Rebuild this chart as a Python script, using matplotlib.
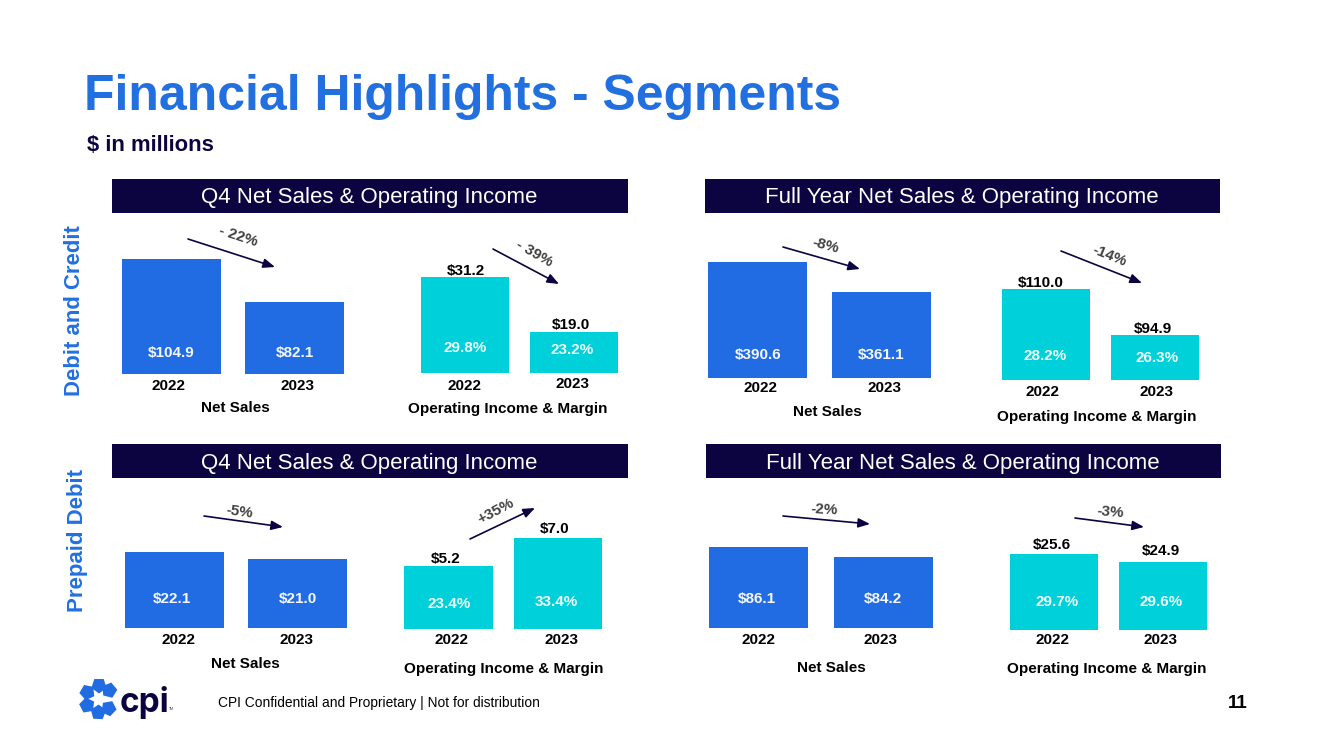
import numpy as np
import matplotlib
matplotlib.use("Agg")
import matplotlib.pyplot as plt
from matplotlib.patches import Rectangle, RegularPolygon

plt.rcParams['font.family'] = ['Liberation Sans', 'DejaVu Sans']

# values
years = ["2022", "2023"]
dc_q4_sales = [104.9, 82.1]
dc_q4_income = [31.2, 19.0]
dc_q4_margin = ["29.8%", "23.2%"]
dc_fy_sales = [390.6, 361.1]
dc_fy_income = [110.0, 94.9]
dc_fy_margin = ["28.2%", "26.3%"]
pp_q4_sales = [22.1, 21.0]
pp_q4_income = [5.2, 7.0]
pp_q4_margin = ["23.4%", "33.4%"]
pp_fy_sales = [86.1, 84.2]
pp_fy_income = [25.6, 24.9]
pp_fy_margin = ["29.7%", "29.6%"]
changes = ["- 22%", "- 39%", "-8%", "-14%", "-5%", "+35%", "-2%", "-3%"]
header_q4 = "Q4 Net Sales & Operating Income"
header_fy = "Full Year Net Sales & Operating Income"

BLUE = "#216ce2"
CYAN = "#00d0d9"
NAVY = "#0b0440"
TITLE = "#2270e0"
GREY = "#404040"

W, H = 1333, 749
fig = plt.figure(figsize=(W / 100, H / 100), dpi=100)

# overlay in pixel coords for text, banners and arrows
ov = fig.add_axes([0, 0, 1, 1], zorder=5)
ov.set_xlim(0, W)
ov.set_ylim(H, 0)
ov.axis("off")
ov.patch.set_alpha(0)


def label(x, y, s, size=11, color="black", weight="bold", rot=0, ha="center", family=None):
    t = ov.text(x, y, s, fontsize=size, color=color, fontweight=weight, rotation=rot,
                ha=ha, va="center_baseline", rotation_mode="anchor")
    if family:
        t.set_family(family)


def bars(values, left, right, bar_w, top, bottom, floor, color):
    # the slide uses a cut-off baseline, floor is the value at the bar bottom
    ax = fig.add_axes([left / W, 1 - bottom / H, (right - left) / W, (bottom - top) / H], zorder=2)
    frac = bar_w / (right - left - bar_w)
    ax.bar([0, 1], values, width=frac, color=color)
    ax.set_xlim(-frac / 2, 1 + frac / 2)
    ax.set_ylim(floor, max(values))
    ax.axis("off")


def arrow(x0, y0, x1, y1):
    ov.annotate("", xy=(x1, y1), xytext=(x0, y0),
                arrowprops=dict(arrowstyle="-|>,head_length=0.7,head_width=0.28", color=NAVY,
                                lw=1.2, shrinkA=0, shrinkB=0))


def sales_panel(values, layout):
    bars(values, *layout["bar"], BLUE)
    for v, p in zip(values, layout["val"]):
        label(p[0], p[1], f"${v:.1f}", size=11, color="#f4f8fe")
    for y, p in zip(years, layout["year"]):
        label(p[0], p[1], y)
    label(*layout["cap"], "Net Sales")


def income_panel(values, margins, layout):
    bars(values, *layout["bar"], CYAN)
    for v, p in zip(values, layout["val"]):
        label(p[0], p[1], f"${v:.1f}")
    for m, p in zip(margins, layout["mar"]):
        label(p[0], p[1], m, size=11, color="#f0fcfc")
    for y, p in zip(years, layout["year"]):
        label(p[0], p[1], y)
    label(*layout["cap"], "Operating Income & Margin")


# title block
label(84, 92, "Financial Highlights - Segments", size=35.9, color=TITLE, ha="left")
label(87, 143, "$ in millions", size=15.8, color=NAVY, ha="left")

# banners
for x0, x1, y0, y1, txt in [(112, 628, 179, 213, header_q4), (705, 1220, 179, 213, header_fy),
                            (112, 628, 444, 478, header_q4), (706, 1221, 444, 478, header_fy)]:
    ov.add_patch(Rectangle((x0, y0), x1 - x0, y1 - y0, color=NAVY, lw=0))
    label((x0 + x1) / 2 - 0.5, (y0 + y1) / 2 - 0.5, txt, size=16, color="white", weight="normal")

label(72, 311, "Debit and Credit", size=15.9, color=TITLE, rot=90)
label(75, 540, "Prepaid Debit", size=16, color=TITLE, rot=90)

# bar panels
sales_panel(dc_q4_sales, dict(bar=(122, 344, 99, 259, 374, 43.9),
                              val=[(171, 352), (295, 352)], year=[(169, 385), (297.5, 385)], cap=(235, 406)))
income_panel(dc_q4_income, dc_q4_margin, dict(bar=(420.5, 618, 88.5, 277, 373, 9.9),
                                              val=[(466, 269), (571, 323)], mar=[(465, 346), (572, 348)],
                                              year=[(465, 384), (572, 383)], cap=(507.5, 407)))
sales_panel(dc_fy_sales, dict(bar=(708, 931, 99, 262, 378, 276.5),
                              val=[(758, 354), (881, 353)], year=[(761, 387), (884, 386)], cap=(827.5, 411)))
income_panel(dc_fy_income, dc_fy_margin, dict(bar=(1002, 1199, 88, 289, 380, 80.1),
                                              val=[(1041, 282), (1152.5, 327)], mar=[(1045, 354), (1157, 356)],
                                              year=[(1043, 390), (1157, 391)], cap=(1097, 415)))
sales_panel(pp_q4_sales, dict(bar=(125, 347, 99, 552, 628, 10.2),
                              val=[(172, 597), (298, 597)], year=[(178, 638), (297, 638)], cap=(245, 663)))
income_panel(pp_q4_income, pp_q4_margin, dict(bar=(404, 602, 88.5, 538, 629, 1.15),
                                              val=[(446, 557), (555, 527)], mar=[(449, 603), (556, 601)],
                                              year=[(451.5, 639), (561.5, 638)], cap=(504, 668)))
sales_panel(pp_fy_sales, dict(bar=(709, 932.5, 99, 547, 628, 70.7),
                              val=[(757, 597), (883, 597)], year=[(758.5, 638), (881, 639)], cap=(831, 667)))
income_panel(pp_fy_income, pp_fy_margin, dict(bar=(1009.5, 1207, 88.5, 554, 630, 18.95),
                                              val=[(1052, 544), (1161, 550)], mar=[(1057, 601), (1161, 601)],
                                              year=[(1052, 638), (1161, 639)], cap=(1107, 668)))

# change arrows
arrow(188, 239, 275, 267)
arrow(493, 249, 559, 284)
arrow(783, 247, 860, 269)
arrow(1061, 251, 1142, 283)
arrow(204, 516, 283, 527)
arrow(470, 539, 535, 508)
arrow(783, 516, 870, 524)
arrow(1075, 518, 1144, 527)

change_pos = [(239, 235, -18), (535, 252, -30), (826, 244, -15), (1110, 255, -22),
              (240, 510, -8), (495, 510, 28), (824, 508, -3), (1110, 511, -5)]
for txt, (x, y, r) in zip(changes, change_pos):
    label(x, y, txt, size=11, color=GREY, rot=r)

# logo, blobs in a c shape
for ang in [40, 90, 150, 208, 267, 316]:
    a = np.deg2rad(ang)
    ov.add_patch(RegularPolygon((99 + 13.5 * np.cos(a), 699 - 13.5 * np.sin(a)), 5, radius=8,
                                orientation=-a + np.pi / 2, color=BLUE, lw=0))
label(120, 699, "cpi", size=24, color=NAVY, ha="left", weight="bold", family=["Inter", "Liberation Sans"])
label(169, 708, "TM", size=2.5, color=GREY, ha="left", weight="normal")

# footer
label(218, 702, "CPI Confidential and Proprietary | Not for distribution", size=9.9, weight="normal", ha="left")
label(1248, 701, "11", size=13.5, ha="right")

fig.savefig("out.png", dpi=100)
